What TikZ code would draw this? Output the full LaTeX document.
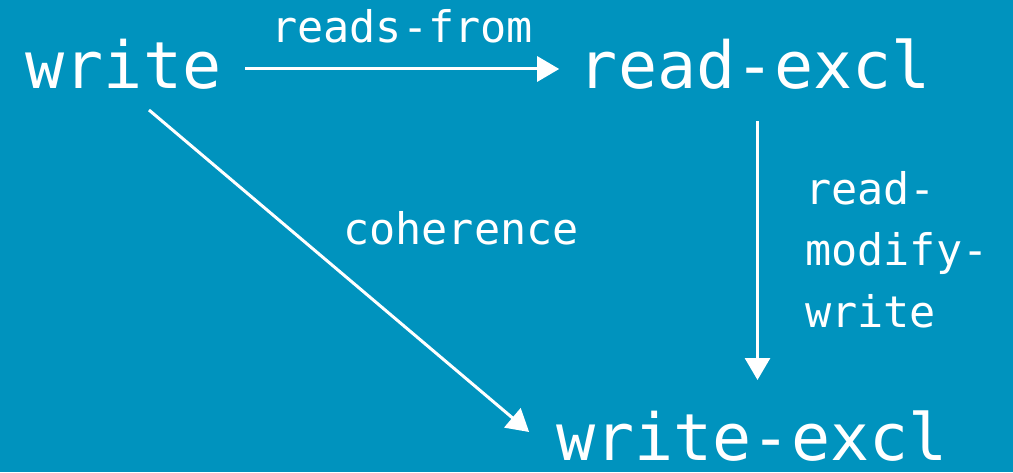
\documentclass[tikz,border=0pt]{standalone}
\usepackage{fontspec}
\setmonofont{DejaVu Sans Mono}
\usetikzlibrary{arrows.meta,calc}
\definecolor{bgblue}{RGB}{0,147,190}
\tikzset{
  term/.style={font=\ttfamily\fontsize{65}{70}\selectfont, text=white, inner sep=0pt, anchor=base},
  edgelabel/.style={font=\ttfamily\fontsize{43.5}{61}\selectfont, text=white, inner sep=0pt},
  rel/.style={draw=white, line width=3pt, -{Triangle[length=22pt,width=25pt]}},
}
\begin{document}
\begin{tikzpicture}[x=1pt,y=1pt]
  \fill[bgblue] (0,0) rectangle (1013,472);
  \useasboundingbox (0,0) rectangle (1013,472);

  % events
  \node[term] (w)  at (123.5,383) {write};
  \node[term] (rx) at (755,383)   {read-excl};
  \node[term] (wx) at (752,12)    {write-excl};

  % relations
  \draw[rel] ($(w.base east)+(23.5,20)$) -- ($(rx.base west)+(-19.5,20)$)
    node[edgelabel, midway, anchor=base, yshift=26] (rf) {reads-from};
  \draw[rel] ($(rx.base)+(2.5,-32)$) -- ($(wx.base)+(5.5,80)$);
  \draw[rel] ($(w.base)+(25.5,-21)$) -- ($(wx.base west)+(-27,28)$);

  \node[edgelabel, anchor=base] (co) at (461,227) {coherence};
  % base anchor of a multi-line node sits on its last line
  \node[edgelabel, anchor=base west, align=left] (rmw) at (805,145)
    {read-\\modify-\\write};
\end{tikzpicture}
\end{document}
